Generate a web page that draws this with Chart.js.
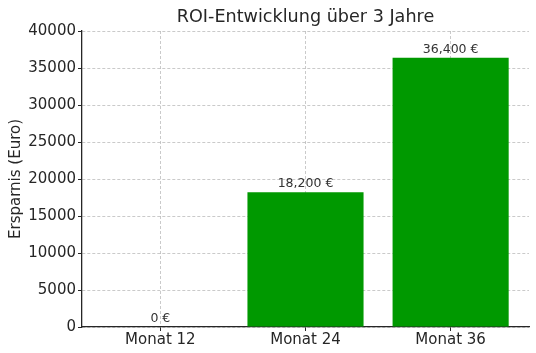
<!DOCTYPE html>
<html>
<head>
<meta charset="utf-8">
<script src="https://cdn.jsdelivr.net/npm/chart.js@4"></script>
<style>
  html, body { margin: 0; padding: 0; background: #fff; }
  #wrap { width: 536px; height: 353px; }
</style>
</head>
<body>
<div id="wrap"><canvas id="roiChart"></canvas></div>
<script>
const categories = ['Monat 12', 'Monat 24', 'Monat 36'];
const savings = [0, 18200, 36400];
const yTicks = [0, 5000, 10000, 15000, 20000, 25000, 30000, 35000, 40000];
const chartTitle = 'ROI-Entwicklung über 3 Jahre';

const FONT = "'DejaVu Sans', sans-serif";
const TEXT = '#262626';
const GRID = 'rgba(150, 150, 150, 0.5)';

// value labels above each bar + title centred over the plot area
const barLabels = {
    id: 'barLabels',
    afterDraw(chart) {
        const ctx = chart.ctx;
        const area = chart.chartArea;
        const meta = chart.getDatasetMeta(0);
        ctx.save();
        ctx.font = '12.5px ' + FONT;
        ctx.fillStyle = '#333';
        ctx.textAlign = 'center';
        ctx.textBaseline = 'alphabetic';
        meta.data.forEach((bar, i) => {
            const txt = savings[i].toLocaleString('en-US') + ' €';
            ctx.fillText(txt, bar.x, bar.y - 5);
        });

        ctx.font = '17.6px ' + FONT;
        ctx.fillStyle = TEXT;
        ctx.textBaseline = 'middle';
        ctx.fillText(chartTitle, (area.left + area.right) / 2, area.top - 14);
        ctx.restore();
    }
};

const ctx = document.getElementById('roiChart').getContext('2d');
new Chart(ctx, {
    type: 'bar',
    data: {
        datasets: [{
            data: savings.map((v, i) => ({ x: i, y: v })),
            backgroundColor: '#009900',
            borderWidth: 0,
            categoryPercentage: 1,
            barPercentage: 0.8,
        }]
    },
    options: {
        responsive: true,
        maintainAspectRatio: false,
        animation: false,
        layout: { padding: { left: 0, right: 7, top: 31, bottom: 0 } },
        plugins: {
            legend: { display: false },
            tooltip: { enabled: false },
            title: { display: false }
        },
        scales: {
            x: {
                type: 'linear',
                min: -0.54,
                max: 2.54,
                offset: false,
                z: 1,
                afterBuildTicks: (scale) => {
                    scale.ticks = categories.map((c, i) => ({ value: i }));
                },
                afterFit: (scale) => { scale.height = 26; },
                ticks: {
                    color: TEXT,
                    font: { family: FONT, size: 15 },
                    padding: 0,
                    maxRotation: 0,
                    autoSkip: false,
                    callback: (v) => categories[v] ?? '',
                },
                grid: {
                    offset: false,
                    color: GRID,
                    lineWidth: 1,
                    drawTicks: true,
                    tickLength: 4,
                    tickColor: TEXT,
                    tickBorderDash: [],
                    tickWidth: 1,
                },
                border: { display: true, color: TEXT, width: 1.3, dash: [3, 2] },
            },
            y: {
                min: 0,
                max: 40000,
                z: 1,
                afterBuildTicks: (scale) => {
                    scale.ticks = yTicks.map(v => ({ value: v }));
                },
                afterFit: (scale) => { scale.width = 82; },
                ticks: {
                    color: TEXT,
                    font: { family: FONT, size: 15 },
                    padding: 2,
                    callback: (v) => String(v),
                },
                grid: {
                    color: GRID,
                    lineWidth: 1,
                    drawTicks: true,
                    tickLength: 4,
                    tickColor: TEXT,
                    tickBorderDash: [],
                    tickWidth: 1,
                },
                border: { display: true, color: TEXT, width: 1.3, dash: [3, 2] },
                title: {
                    display: true,
                    text: 'Ersparnis (Euro)',
                    color: TEXT,
                    font: { family: FONT, size: 15 },
                    padding: { top: 7, bottom: 0 },
                }
            }
        }
    },
    plugins: [barLabels]
});
</script>
</body>
</html>
